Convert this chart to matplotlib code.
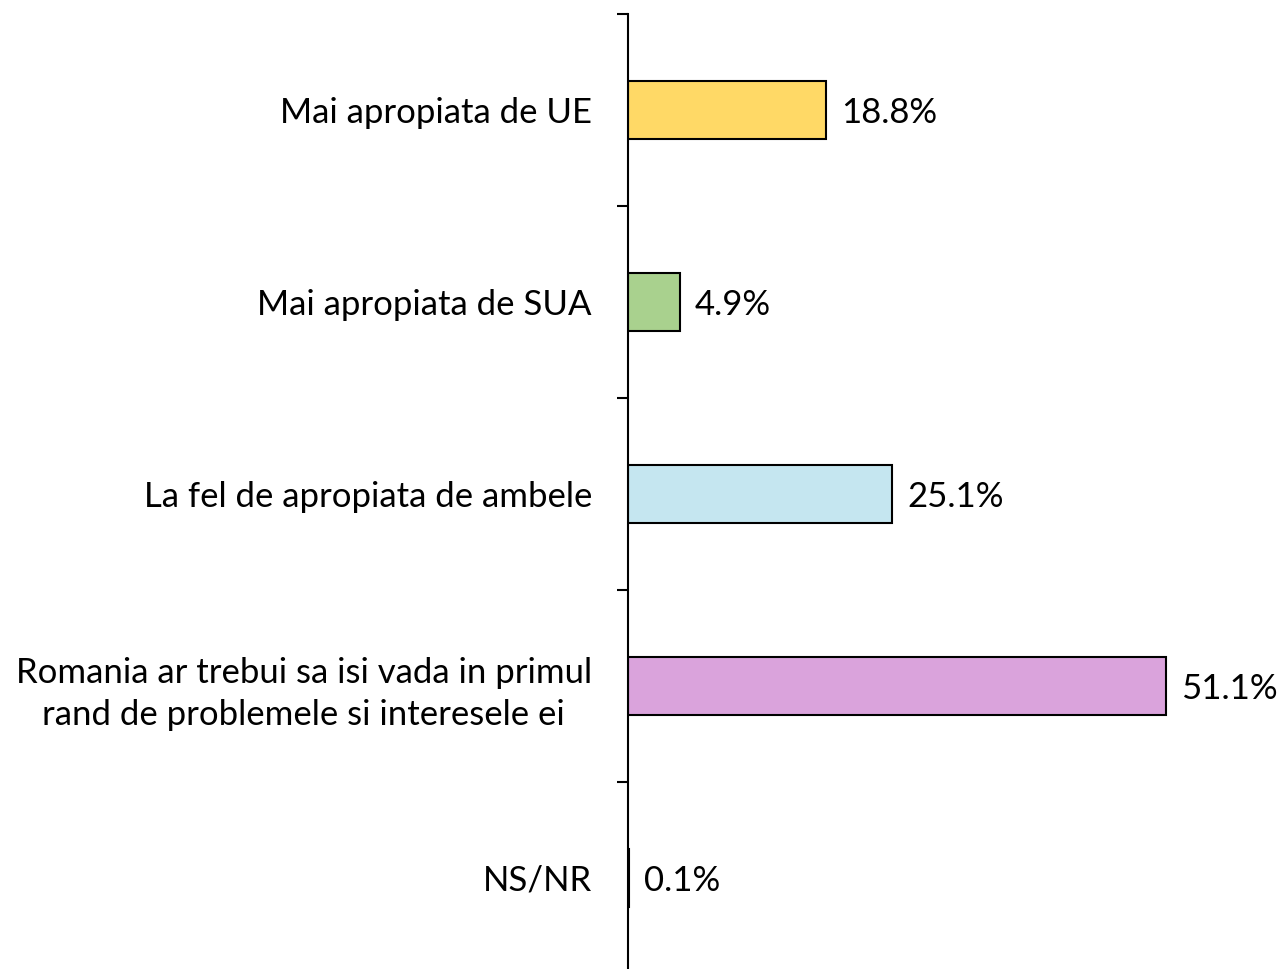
import matplotlib
matplotlib.use("Agg")
import matplotlib.pyplot as plt

categories = [
    "Mai apropiata de UE",
    "Mai apropiata de SUA",
    "La fel de apropiata de ambele",
    "Romania ar trebui sa isi vada in primul\nrand de problemele si interesele ei",
    "NS/NR",
]
values = [18.8, 4.9, 25.1, 51.1, 0.1]
colors = ["#FFD966", "#A9D18E", "#C5E6F0", "#DAA3DC", "#7F7F7F"]

plt.rcParams['font.family'] = ['Lato', 'DejaVu Sans']

fig = plt.figure(figsize=(12.86, 9.69), dpi=100)
W, H = 1286, 969
left, right, top, bottom = 628, 1286, 14, 974
ax = fig.add_axes([left / W, 1 - bottom / H, (right - left) / W, (bottom - top) / H])

y = list(range(len(categories)))
ax.barh(y, values, height=0.30, color=colors, edgecolor="black", linewidth=1.5)

for yi, v in zip(y, values):
    ax.annotate(f"{v:.1f}%", xy=(v, yi), xytext=(11, -2), textcoords="offset points",
                ha="left", va="center", fontsize=25, color="black")

ax.set_xlim(0, 62.5)
ax.set_ylim(len(categories) - 0.5, -0.5)

ax.set_yticks(y)
ax.set_yticklabels(categories, fontsize=25, multialignment="center", linespacing=1.4)
ax.tick_params(axis="y", which="major", length=0, pad=26)
ax.set_yticks([i - 0.5 for i in range(len(categories) + 1)], minor=True)
ax.tick_params(axis="y", which="minor", length=8, width=1.5, direction="out")

ax.set_xticks([])
for s in ["top", "right", "bottom"]:
    ax.spines[s].set_visible(False)
ax.spines["left"].set_linewidth(1.5)

fig.savefig("out.png", dpi=100)
